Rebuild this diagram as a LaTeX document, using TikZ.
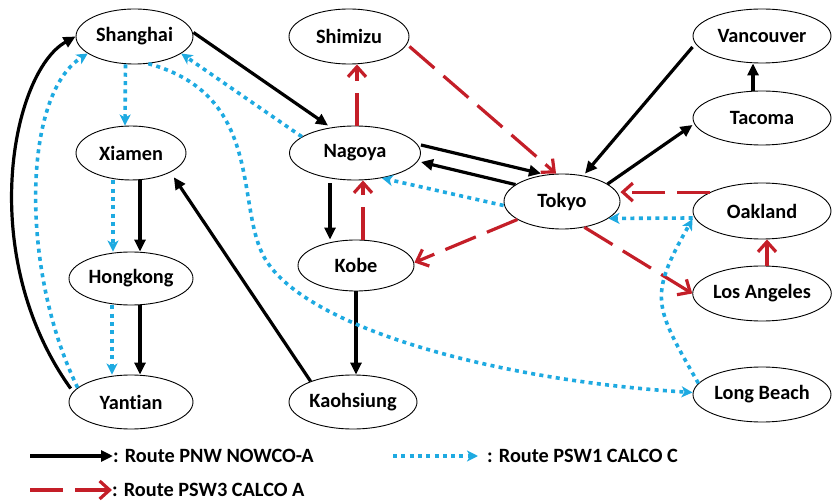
\documentclass[tikz,border=0pt]{standalone}
\usepackage{fontspec}
\setmainfont{Carlito}[Ligatures=NoCommon]
\usetikzlibrary{shapes.geometric,arrows.meta}
\definecolor{routeblue}{RGB}{30,170,225}
\definecolor{routered}{RGB}{196,30,40}
\begin{document}
\begin{tikzpicture}[x=1pt, y=-1pt,
  port/.style={ellipse, draw, line width=0.9pt, inner sep=0pt, font=\bfseries\fontsize{20.3}{24}\selectfont},
  legend/.style={inner sep=0pt, anchor=west, font=\bfseries\fontsize{20.3}{24}\selectfont},
  pnw/.style={line width=3.2pt, -{Triangle[length=12pt,width=11pt]}},
  psw3/.style={draw=routered, line width=3.2pt, dash pattern=on 33pt off 12pt, -{Straight Barb[length=10pt,width=18pt]}},
  psw1/.style={draw=routeblue, line width=3.6pt, dash pattern=on 4pt off 4.3pt, -{Stealth[length=11pt,width=11pt,inset=3pt]}}]
  \useasboundingbox (0,0) rectangle (832,502);
  \node[port, minimum width=117pt, minimum height=55pt] (shanghai) at (134.5,36.5) {Shanghai};
  \node[port, minimum width=120pt, minimum height=55pt] (shimizu) at (349,36.5) {Shimizu};
  \node[port, minimum width=138pt, minimum height=54pt] (vancouver) at (762,36) {Vancouver};
  \node[port, minimum width=110pt, minimum height=54pt] (xiamen) at (131,153) {Xiamen};
  \node[port, minimum width=131pt, minimum height=54pt] (nagoya) at (355,153) {Nagoya};
  \node[port, minimum width=138pt, minimum height=54pt] (tacoma) at (762,118) {Tacoma};
  \node[port, minimum width=116pt, minimum height=55pt] (tokyo) at (562,201.5) {Tokyo};
  \node[port, minimum width=138pt, minimum height=56pt] (oakland) at (762,211) {Oakland};
  \node[port, minimum width=124pt, minimum height=53pt] (hongkong) at (131,278.5) {Hongkong};
  \node[port, minimum width=116pt, minimum height=51pt] (kobe) at (356,265.5) {Kobe};
  \node[port, minimum width=138pt, minimum height=55pt] (losangeles) at (762,293.5) {Los Angeles};
  \node[port, minimum width=124pt, minimum height=54pt] (yantian) at (131,402) {Yantian};
  \node[port, minimum width=128pt, minimum height=54pt] (kaohsiung) at (353,402) {Kaohsiung};
  \node[port, minimum width=138pt, minimum height=55pt] (longbeach) at (762,394.5) {Long Beach};

  \draw[pnw, shorten <=4pt] (yantian.170) .. controls (-25,255) and (12,72) .. (shanghai.west);
  \draw[pnw] ([yshift=4pt]shanghai.east) -- ([xshift=-27pt]nagoya.north);
  \draw[pnw] ([yshift=8pt]nagoya.east) -- ([xshift=-21pt]tokyo.north);
  \draw[pnw] (tokyo.160) -- ([yshift=-9pt]nagoya.east);
  \draw[pnw] (tokyo.21) -- ([yshift=-7pt]tacoma.west);
  \draw[pnw] ([yshift=-11pt]vancouver.west) -- ([xshift=23pt]tokyo.north);
  \draw[pnw] ([xshift=-9pt]tacoma.north) -- ([xshift=-9pt]vancouver.south);
  \draw[pnw, shorten <=3pt] ([xshift=-25pt]nagoya.south) -- ([xshift=-26pt]kobe.north);
  \draw[pnw] (kobe.south) -- (kobe.south |- kaohsiung.north);
  \draw[pnw, shorten >=6pt] (kaohsiung.154) -- (xiamen.-26);
  \draw[pnw] ([xshift=9pt]xiamen.south) -- ([xshift=9pt]hongkong.north);
  \draw[pnw] ([xshift=9pt]hongkong.south) -- ([xshift=9pt]yantian.north);

  \draw[psw3] ([yshift=-10pt]shimizu.east) -- ([xshift=-6pt]tokyo.north);
  \draw[psw3] (oakland.160) -- (oakland.160 -| tokyo.east);
  \draw[psw3] (tokyo.202) -- ([yshift=3pt]kobe.east);
  \draw[psw3] (tokyo.-49) -- (losangeles.west);
  \draw[psw3] ([xshift=5pt]losangeles.north) -- ([xshift=5pt]oakland.south);
  \draw[psw3] ([xshift=7pt]kobe.north) -- ([xshift=8pt]nagoya.south);
  \draw[psw3] ([xshift=2pt]nagoya.north) -- ([xshift=8pt]shimizu.south);

  \draw[psw1] ([xshift=-9pt]shanghai.south) -- ([xshift=-6pt]xiamen.north);
  \draw[psw1] ([xshift=-18pt]xiamen.south) -- ([xshift=-18pt]hongkong.north);
  \draw[psw1] ([xshift=-19pt]hongkong.south) -- ([xshift=-19pt]yantian.north);
  \draw[psw1] (yantian.165) .. controls (20,270) and (22,95) .. (shanghai.200);
  \draw[psw1] (nagoya.163) -- (shanghai.-20);
  \draw[psw1] ([yshift=-4pt]tokyo.west) -- (nagoya.-43);
  \draw[psw1] ([yshift=-7pt]oakland.west) -- (tokyo.-20);
  \draw[psw1] (longbeach.170) .. controls (654,305.6) and (648,297) .. ([yshift=-8pt]oakland.west);
  \draw[psw1] (shanghai.-63) .. controls (263,95) and (236,202) .. (263,255)
    .. controls (299,326) and (492,380) .. ([yshift=2pt]longbeach.west);

  \coordinate (pnwtail) at (30,456);
  \coordinate (psw1tail) at (393,456);
  \coordinate (psw3tail) at (30,490);
  \node[legend] (pnwlabel) at (113,456) {: Route PNW NOWCO-A};
  \node[legend] (psw1label) at (487,456) {: Route PSW1 CALCO C};
  \node[legend] (psw3label) at (112,490) {: Route PSW3 CALCO A};
  \draw[pnw] (pnwtail) -- (pnwlabel.west);
  \draw[psw1] (psw1tail) -- ([xshift=-9pt]psw1label.west);
  \draw[psw3] (psw3tail) -- (psw3label.west);
\end{tikzpicture}
\end{document}
